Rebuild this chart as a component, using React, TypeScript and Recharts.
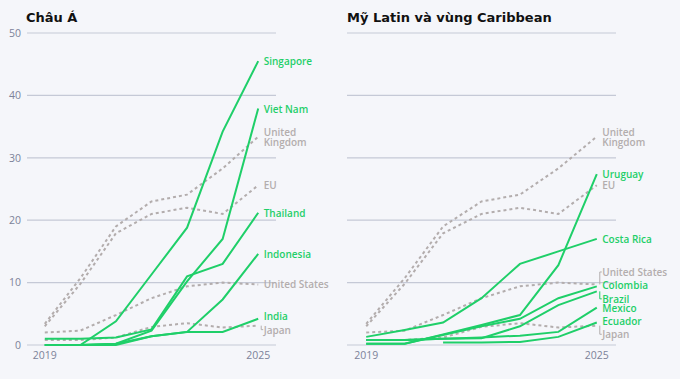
import { LineChart, Line, XAxis, YAxis, CartesianGrid } from "recharts";

const years = [2019, 2020, 2021, 2022, 2023, 2024, 2025];

// reference economies, shown dashed in both panels
const unitedKingdom = [3.4, 10.7, 19, 23, 24.1, 28.3, 33.4];
const eu = [3, 9.8, 17.9, 21, 22, 21, 25.6];
const unitedStates = [2.0, 2.3, 4.8, 7.5, 9.4, 10, 9.7];
const japan = [0.8, 0.8, 1.2, 2.9, 3.5, 2.8, 3.1];

// Châu Á
const singapore = [0, 0, 3.8, 11.3, 18.8, 34.2, 45.5];
const vietNam = [0, 0, 0.2, 2.3, 10.2, 17, 37.9];
const thailand = [1, 1, 1.2, 2.5, 11, 13, 21.2];
const indonesia = [0, 0, 0.2, 1.4, 2.1, 7.3, 14.6];
const india = [0, 0, 0, 1.4, 2.1, 2.1, 4.2];

// Mỹ Latin và vùng Caribbean
const costaRica = [1.3, 2.4, 3.6, 7.5, 13, 15, 17];
const uruguay = [0.2, 0.2, 1.7, 3.2, 4.8, 12.8, 27.4];
const colombia = [0.2, 0.2, 1.6, 3.0, 4.2, 7.5, 9.4];
const brazil = [0.8, 0.8, 1.0, 1.1, 3.0, 6.4, 8.6];
const mexico = [0.8, 0.8, 1.0, 1.2, 1.5, 2.1, 6.0];
const ecuador = [null, null, 0.4, 0.4, 0.5, 1.3, 3.6];

const yTicks = [0, 10, 20, 30, 40, 50];
const xTicks = [2019, 2025];

const GREEN = "#1fcf69";
const GRAY = "#b3adad";
const BG = "#f5f6fa";
const FONT = "'Open Sans', sans-serif";

const refSeries: [string, (number | null)[]][] = [
  ["United Kingdom", unitedKingdom],
  ["EU", eu],
  ["United States", unitedStates],
  ["Japan", japan],
];

const asiaSeries: [string, (number | null)[]][] = [
  ["Singapore", singapore],
  ["Viet Nam", vietNam],
  ["Thailand", thailand],
  ["Indonesia", indonesia],
  ["India", india],
];

const latamSeries: [string, (number | null)[]][] = [
  ["Costa Rica", costaRica],
  ["Uruguay", uruguay],
  ["Colombia", colombia],
  ["Brazil", brazil],
  ["Mexico", mexico],
  ["Ecuador", ecuador],
];

function buildRows(series: [string, (number | null)[]][]) {
  return years.map((year, i) => {
    const row: Record<string, number | null> = { year };
    series.forEach(([name, vals]) => {
      row[name] = vals[i];
    });
    return row;
  });
}

// label nudges (px) so end labels don't collide; bracket = draw a small leader
type LabelTweak = { dy: number; bracket?: boolean };
const asiaTweaks: Record<string, LabelTweak> = {
  India: { dy: -3 },
  Japan: { dy: 4, bracket: true },
};
const latamTweaks: Record<string, LabelTweak> = {
  "United States": { dy: -12.5, bracket: true },
  Colombia: { dy: -1 },
  Brazil: { dy: 7.5, bracket: true },
  Ecuador: { dy: -1.5 },
  Japan: { dy: 8.6, bracket: true },
};

function endLabel(name: string, color: string, tweaks: Record<string, LabelTweak>) {
  return (props: any) => {
    const { x, y, index } = props;
    if (index !== years.length - 1 || x == null || y == null) return null;
    const t = tweaks[name] || { dy: 0 };
    const ly = y + t.dy;
    const lines = name === "United Kingdom" ? ["United", "Kingdom"] : [name];
    return (
      <g key={name}>
        {t.bracket && (
          <path
            d={`M${x + 3},${y} V${ly} H${x + 5}`}
            stroke={color}
            strokeWidth={1}
            fill="none"
          />
        )}
        <text
          x={x + 5.5}
          y={ly}
          fill={color}
          fontFamily={FONT}
          fontSize={10}
          fontWeight={600}
          dominantBaseline="central"
        >
          {lines.length === 1 ? (
            lines[0]
          ) : (
            <>
              <tspan x={x + 5.5} dy={-4.5}>
                {lines[0]}
              </tspan>
              <tspan x={x + 5.5} dy={9.5}>
                {lines[1]}
              </tspan>
            </>
          )}
        </text>
      </g>
    );
  };
}

function Panel({
  title,
  series,
  tweaks,
  showY,
}: {
  title: string;
  series: [string, (number | null)[]][];
  tweaks: Record<string, LabelTweak>;
  showY: boolean;
}) {
  const rows = buildRows([...refSeries, ...series]);
  return (
    <div style={{ position: "relative", width: 340, height: 379 }}>
      <div
        style={{
          position: "absolute",
          left: showY ? 26 : 7,
          top: 10,
          fontFamily: "'DejaVu Sans', sans-serif",
          fontWeight: 700,
          fontSize: 13,
          color: "#111",
        }}
      >
        {title}
      </div>
      <LineChart
        width={340}
        height={379}
        data={rows}
        margin={{ top: 33, right: 64, bottom: 14, left: showY ? 0 : 7 }}
      >
        <CartesianGrid vertical={false} stroke="#c5c9d6" strokeWidth={1.2} />
        <XAxis
          dataKey="year"
          type="number"
          domain={[2018.5, 2025.5]}
          ticks={xTicks}
          axisLine={false}
          tickLine={false}
          tickSize={0}
          tickMargin={7}
          height={20}
          tick={{ fill: "#7c8299", fontSize: 10.5, fontFamily: FONT }}
        />
        <YAxis
          type="number"
          domain={[0, 50]}
          ticks={yTicks}
          hide={!showY}
          width={27}
          axisLine={false}
          tickLine={false}
          tickSize={4}
          tickMargin={2}
          tick={{ fill: "#7c8299", fontSize: 10.5, fontFamily: FONT }}
        />
        {refSeries.map(([name]) => (
          <Line
            key={name}
            dataKey={name}
            stroke={GRAY}
            strokeWidth={2}
            strokeDasharray="3 3"
            dot={false}
            isAnimationActive={false}
            label={endLabel(name, GRAY, tweaks)}
          />
        ))}
        {series.map(([name]) => (
          <Line
            key={name}
            dataKey={name}
            stroke={GREEN}
            strokeWidth={2}
            dot={false}
            isAnimationActive={false}
            label={endLabel(name, GREEN, tweaks)}
          />
        ))}
      </LineChart>
    </div>
  );
}

export default function App() {
  return (
    <div
      style={{
        position: "absolute",
        left: 0,
        top: 0,
        width: 680,
        height: 379,
        background: BG,
        display: "flex",
        overflow: "hidden",
      }}
    >
      <Panel title="Châu Á" series={asiaSeries} tweaks={asiaTweaks} showY />
      <Panel
        title="Mỹ Latin và vùng Caribbean"
        series={latamSeries}
        tweaks={latamTweaks}
        showY={false}
      />
    </div>
  );
}
